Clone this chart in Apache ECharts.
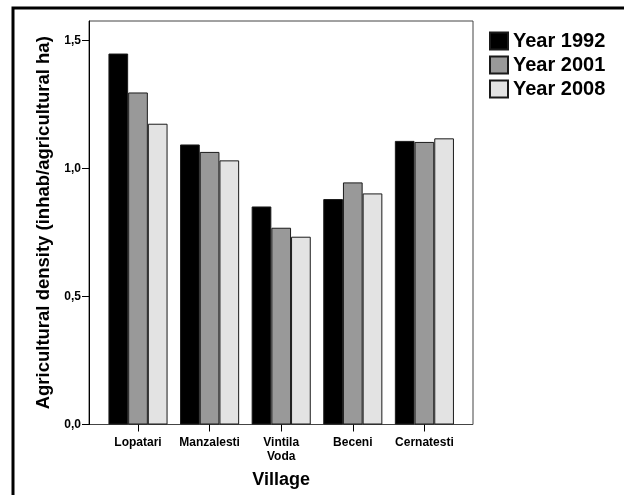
<!DOCTYPE html>
<html>
<head>
<meta charset="utf-8">
<script src="https://cdn.jsdelivr.net/npm/echarts@6/dist/echarts.min.js"></script>
<style>
html,body{margin:0;padding:0;background:#fff;}
#chart{width:624px;height:495px;}
</style>
</head>
<body>
<div id="chart"></div>
<script>
const villages = ['Lopatari', 'Manzalesti', 'Vintila\nVoda', 'Beceni', 'Cernatesti'];
const year1992 = [1.448, 1.093, 0.851, 0.880, 1.107];
const year2001 = [1.296, 1.064, 0.768, 0.945, 1.103];
const year2008 = [1.174, 1.031, 0.733, 0.902, 1.117];
const yTicks = [0, 0.5, 1.0, 1.5];
const seriesNames = ['Year 1992', 'Year 2001', 'Year 2008'];
const seriesColors = ['#000000', '#999999', '#e3e3e3'];

const FONT = '"Liberation Sans", Arial, Helvetica, sans-serif';
const chart = echarts.init(document.getElementById('chart'), null, {renderer: 'canvas'});

const allSeries = [year1992, year2001, year2008].map((d, i) => ({
  name: seriesNames[i],
  type: 'bar',
  xAxisIndex: 1,
  yAxisIndex: 1,
  data: d,
  barWidth: 19.7,
  barGap: '0%',
  itemStyle: {color: seriesColors[i], borderColor: '#1a1a1a', borderWidth: 1},
  emphasis: {disabled: true},
  animation: false
}));

chart.setOption({
  animation: false,
  backgroundColor: '#ffffff',
  graphic: [{
    type: 'rect',
    shape: {x: 13, y: 8, width: 700, height: 600},
    style: {fill: 'none', stroke: '#000', lineWidth: 3},
    silent: true,
    z: 100
  }],
  legend: {
    left: 484,
    top: 26,
    orient: 'vertical',
    itemWidth: 18,
    itemHeight: 17,
    itemGap: 4,
    icon: 'rect',
    selectedMode: false,
    textStyle: {fontFamily: FONT, fontWeight: 'bold', fontSize: 20, color: '#000', lineHeight: 20},
    data: seriesNames
  },
  grid: [
    {left: 89, top: 21, width: 384, height: 403.5, show: true, borderColor: '#444', borderWidth: 1, backgroundColor: 'transparent', outerBoundsMode: 'none'},
    {left: 102.2, top: 21, width: 358, height: 403.5, outerBoundsMode: 'none'}
  ],
  xAxis: [
    {gridIndex: 0, type: 'value', show: false, min: 0, max: 1},
    {
      gridIndex: 1,
      type: 'category',
      data: villages,
      axisLine: {show: false},
      axisTick: {show: true, alignWithLabel: true, length: 7, lineStyle: {color: '#000'}},
      axisLabel: {fontFamily: FONT, fontWeight: 'bold', fontSize: 12, color: '#000', margin: 11, lineHeight: 14, interval: 0},
      name: 'Village',
      nameLocation: 'middle',
      nameGap: 47,
      nameTextStyle: {fontFamily: FONT, fontWeight: 'bold', fontSize: 18, color: '#000'}
    }
  ],
  yAxis: [
    {gridIndex: 0, type: 'value', show: false, min: 0, max: 1},
    {
      gridIndex: 1,
      type: 'value',
      min: 0,
      max: 1.575,
      interval: 0.5,
      offset: 13.2,
      splitLine: {show: false},
      axisLine: {show: true, lineStyle: {color: '#000'}},
      axisTick: {show: true, length: 7, lineStyle: {color: '#000'}, customValues: yTicks},
      axisLabel: {
        fontFamily: FONT, fontWeight: 'bold', fontSize: 12, color: '#000', margin: 8,
        customValues: yTicks,
        formatter: v => v.toFixed(1).replace('.', ',')
      },
      name: 'Agricultural density (inhab/agricultural ha)',
      nameLocation: 'middle',
      nameGap: 34,
      nameTextStyle: {fontFamily: FONT, fontWeight: 'bold', fontSize: 18.5, color: '#000'}
    }
  ],
  series: allSeries
});
</script>
</body>
</html>
